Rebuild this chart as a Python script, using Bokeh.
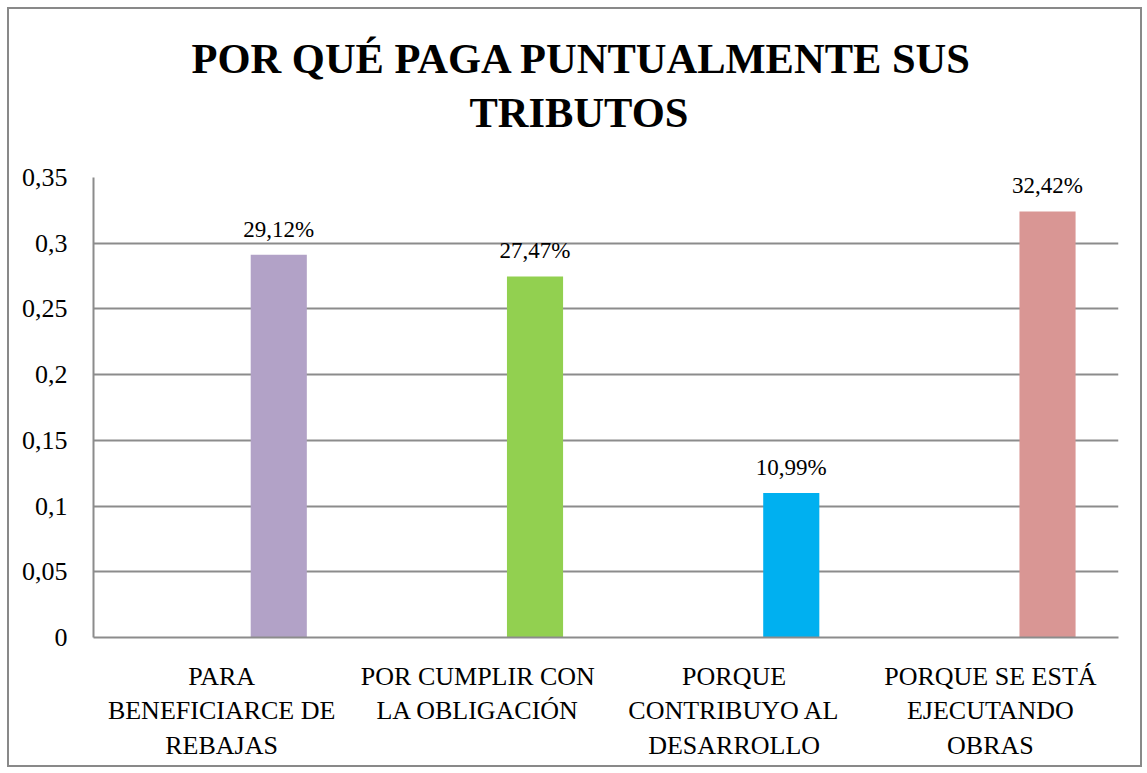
from bokeh.plotting import figure
from bokeh.models import Range1d, FixedTicker, Title, ColumnDataSource, LabelSet
from bokeh.core.properties import value
from bokeh.transform import dodge
from bokeh.embed import file_html
from bokeh.resources import INLINE

categories = ["PARA BENEFICIARCE DE REBAJAS", "POR CUMPLIR CON LA OBLIGACIÓN",
              "PORQUE CONTRIBUYO AL DESARROLLO", "PORQUE SE ESTÁ EJECUTANDO OBRAS"]
category_labels = ["PARA\nBENEFICIARCE DE\nREBAJAS", "POR CUMPLIR CON\nLA OBLIGACIÓN",
                   "PORQUE\nCONTRIBUYO AL\nDESARROLLO", "PORQUE SE ESTÁ\nEJECUTANDO\nOBRAS"]
values = [0.2912, 0.2747, 0.1099, 0.3242]
value_labels = ["29,12%", "27,47%", "10,99%", "32,42%"]
colors = ["#B2A2C7", "#92D050", "#00B0F0", "#D99694"]
y_ticks = [0, 0.05, 0.1, 0.15, 0.2, 0.25, 0.3, 0.35]
y_tick_labels = ["0", "0,05", "0,1", "0,15", "0,2", "0,25", "0,3", "0,35"]
title_line1 = "POR QUÉ PAGA PUNTUALMENTE  SUS"
title_line2 = "TRIBUTOS"

FONT = "Times New Roman"
GRID = "#8c8c8c"

positions = [i + 0.5 for i in range(len(categories))]
src = ColumnDataSource(dict(pos=positions, val=values, lab=value_labels, col=colors))

p = figure(x_range=Range1d(0, len(categories)), y_range=Range1d(0, 0.35),
           frame_width=1025, frame_height=460,
           min_border_left=84, min_border_right=22, min_border_top=168, min_border_bottom=128,
           output_backend="svg", toolbar_location=None, title=None)
p.styles = {"border": "2px solid #898989"}
p.margin = (7, 0, 0, 7)
p.outline_line_color = None

p.vbar(x=dodge("pos", 0.223), top="val", width=0.219,
       fill_color="col", line_color=None, source=src)

labels = LabelSet(x=dodge("pos", 0.223), y="val", text="lab", source=src,
                  text_align="center", text_baseline="bottom", y_offset=13,
                  text_font=value(FONT), text_font_size=value("23px"),
                  text_color=value("#000000"))
p.add_layout(labels)

# y axis
p.yaxis.ticker = FixedTicker(ticks=y_ticks)
p.yaxis.major_label_overrides = {t: l for t, l in zip(y_ticks, y_tick_labels)}
p.yaxis.major_label_text_font = FONT
p.yaxis.major_label_text_font_size = "26px"
p.yaxis.major_label_text_color = "#000000"
p.yaxis.major_tick_line_color = None
p.yaxis.minor_tick_line_color = None
p.yaxis.axis_line_color = GRID
p.yaxis.axis_line_width = 2
p.yaxis.major_label_standoff = 20

# x axis
p.xaxis.ticker = FixedTicker(ticks=positions)
p.xaxis.major_label_overrides = {t: l for t, l in zip(positions, category_labels)}
p.xaxis.major_label_text_font = FONT
p.xaxis.major_label_text_font_size = "26px"
p.xaxis.major_label_text_color = "#000000"
p.xaxis.major_label_text_line_height = 1.2
p.xaxis.major_tick_line_color = None
p.xaxis.minor_tick_line_color = None
p.xaxis.axis_line_color = GRID
p.xaxis.axis_line_width = 2
p.xaxis.major_label_standoff = 18
p.xaxis.major_label_orientation = "horizontal"

p.xgrid.grid_line_color = None
p.ygrid.grid_line_color = GRID
p.ygrid.grid_line_width = 2

t2 = Title(text=title_line2, align="left", text_font=FONT, text_font_style="bold",
           text_font_size="42.5px", text_color="#000000", standoff=84, offset=376)
t1 = Title(text=title_line1, align="left", text_font=FONT, text_font_style="bold",
           text_font_size="42.5px", text_color="#000000", standoff=-75, offset=98)
p.add_layout(t2, "above")
p.add_layout(t1, "above")

open("out.html", "w").write(file_html(p, INLINE))
